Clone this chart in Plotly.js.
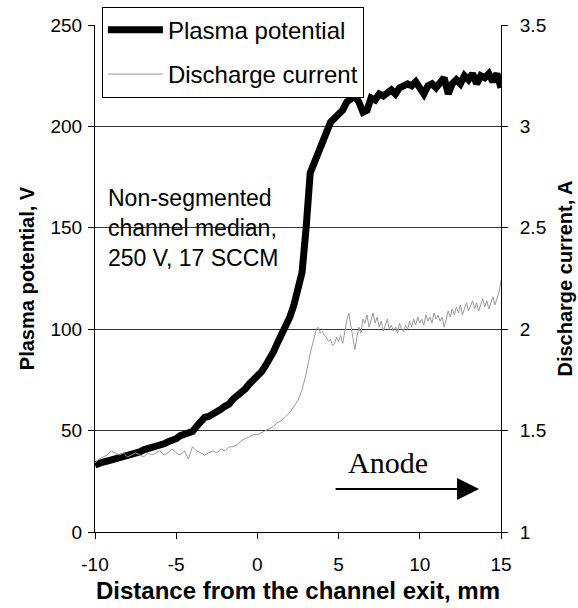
<!DOCTYPE html>
<html>
<head>
<meta charset="utf-8">
<script src="https://cdn.plot.ly/plotly-3.0.1.min.js"></script>
<style>html,body{margin:0;padding:0;background:#fff;}#chart{width:578px;height:608px;}</style>
</head>
<body>
<div id="chart"></div>
<script>
// Distance from channel exit, mm
const potX = [-10,-9.75,-9.5,-9.25,-9,-8.75,-8.5,-8.25,-8,-7.75,-7.5,-7.25,-7,-6.75,-6.5,-6.25,-6,-5.75,-5.5,-5.25,-5,-4.75,-4.5,-4.25,-4,-3.75,-3.5,-3.25,-3,-2.75,-2.5,-2.25,-2,-1.75,-1.5,-1.25,-1,-0.75,-0.5,-0.25,0,0.25,0.5,0.75,1,1.25,1.5,1.75,2,2.25,2.5,2.75,3,3.1,3.25,3.5,3.75,4,4.25,4.5,4.75,5,5.25,5.5,5.75,6,6.25,6.5,6.75,7,7.25,7.5,7.75,8,8.25,8.5,8.75,9,9.25,9.5,9.75,10,10.25,10.5,10.75,11,11.25,11.5,11.75,12,12.25,12.5,12.75,13,13.25,13.5,13.75,14,14.25,14.5,14.75,15];
// Plasma potential, V
const potV = [33,34,34.5,35,35.5,36,36.5,37.5,38,38.5,38.5,39.5,40.5,41,41.5,42,42.5,43.5,44.5,45,46,47.5,48,48.5,49.5,52,55,56.5,57,58,59,60.5,62,63,65.5,67,68,70.5,73,75,76.5,79,82,85,89,93.5,97.5,101,106,112,119,128,150,168,177,182,187,192,198,202,204,206,208,212,214,215,212,207,208,214,213,216,215,217,218,216,219,220,221,220,222,219,216,220,221,219,222,224,216,221,223,221,225,223,226,221,225,224,226,222,226,219];
// Discharge current: distance (mm) and current (A)
const curX = [-10,-9.75,-9.5,-9.25,-9,-8.75,-8.5,-8.25,-8,-7.75,-7.5,-7.25,-7,-6.75,-6.5,-6.25,-6,-5.75,-5.5,-5.25,-5,-4.75,-4.5,-4.25,-4,-3.75,-3.5,-3.25,-3,-2.75,-2.5,-2.25,-2,-1.75,-1.5,-1.25,-1,-0.75,-0.5,-0.25,0,0.25,0.5,0.75,1,1.25,1.5,1.75,2,2.25,2.5,2.75,3,3.25,3.5,
  3.625,3.75,3.875,4,4.125,4.25,4.375,4.5,4.625,4.75,4.875,5,5.125,5.25,5.375,5.5,5.625,5.75,5.875,6,6.125,6.25,6.375,6.5,6.625,6.75,6.875,7,7.125,7.25,7.375,7.5,7.625,7.75,7.875,8,8.125,8.25,8.375,8.5,8.625,8.75,8.875,9,9.125,9.25,9.375,9.5,9.625,9.75,9.875,10,10.125,10.25,10.375,10.5,10.625,10.75,10.875,11,11.125,11.25,11.375,11.5,11.625,11.75,11.875,12,12.125,12.25,12.375,12.5,12.625,12.75,12.875,13,13.125,13.25,13.375,13.5,13.625,13.75,13.875,14,14.125,14.25,14.375,14.5,14.625,14.75,14.875,15];
const curA = [1.34,1.36,1.37,1.38,1.40,1.39,1.38,1.39,1.37,1.38,1.39,1.38,1.37,1.39,1.38,1.39,1.40,1.38,1.39,1.41,1.39,1.38,1.40,1.36,1.42,1.40,1.39,1.38,1.39,1.40,1.39,1.41,1.40,1.42,1.42,1.43,1.45,1.46,1.47,1.48,1.48,1.49,1.50,1.51,1.52,1.54,1.55,1.57,1.59,1.62,1.65,1.70,1.78,1.88,1.97,
  2.00,2.01,1.98,1.99,1.97,1.96,1.94,1.95,1.92,1.93,1.96,1.94,1.97,1.93,1.99,2.04,2.08,2.02,1.95,1.90,1.96,2.01,1.98,2.05,2.03,2.07,2.01,2.04,2.08,2.03,2.06,2.01,2.04,1.99,2.02,2.05,2.00,2.02,1.99,2.01,1.98,2.03,2.00,1.99,2.02,2.00,2.04,2.01,2.05,2.02,2.06,2.03,2.05,2.02,2.07,2.04,2.06,2.03,2.08,2.05,2.07,2.04,2.06,2.01,2.05,2.09,2.06,2.10,2.07,2.11,2.08,2.12,2.07,2.10,2.13,2.09,2.12,2.14,2.10,2.13,2.09,2.12,2.15,2.11,2.14,2.10,2.13,2.16,2.12,2.15,2.18,2.24];

const xTicks = [-10,-5,0,5,10,15];
const xTickText = ['-10','-5','0','5','10','15'];
const yTicks = [0,50,100,150,200,250];
const y2Ticks = [1,1.5,2,2.5,3,3.5];

const FONT = '"Liberation Sans", Arial, sans-serif';

const traces = [
  {x: potX, y: potV, type: 'scatter', mode: 'lines', name: 'Plasma potential',
   line: {color: '#000', width: 7}, legendgroup: 'a', yaxis: 'y'},
  {x: curX, y: curA, type: 'scatter', mode: 'lines', name: 'Discharge current',
   line: {color: '#999', width: 1}, legendgroup: 'b', yaxis: 'y2'}
];

const layout = {
  width: 578, height: 608,
  margin: {l: 95, r: 77, t: 25, b: 76, autoexpand: false},
  paper_bgcolor: '#fff', plot_bgcolor: '#fff',
  font: {family: FONT, color: '#000', size: 19},
  showlegend: true,
  legend: {x: 0.017, y: 1.036, xanchor: 'left', yanchor: 'top',
    bgcolor: '#fff', bordercolor: '#000', borderwidth: 1,
    font: {family: FONT, size: 24, color: '#000'},
    traceorder: 'grouped', tracegroupgap: 10, itemwidth: 55},
  xaxis: {range: [-10, 15], tickvals: xTicks, ticktext: xTickText, ticks: 'outside', ticklen: 6,
    tickcolor: '#000', showline: true, linecolor: '#000', linewidth: 1,
    showgrid: false, zeroline: false, tickfont: {size: 19}, ticklabelstandoff: 9,
    title: {text: '<b>Distance from the channel exit, mm</b>', font: {size: 24}, standoff: 8}},
  yaxis: {range: [0, 250], tickvals: yTicks, ticks: 'outside', ticklen: 6,
    tickcolor: '#000', showline: true, linecolor: '#000', linewidth: 1,
    showgrid: true, gridcolor: '#333', gridwidth: 1, zeroline: false,
    tickfont: {size: 19}, ticklabelstandoff: 2,
    title: {text: '<b>Plasma potential, V</b>', font: {size: 20}, standoff: 10}},
  yaxis2: {range: [1, 3.5], tickvals: y2Ticks, ticks: 'outside', ticklen: 6,
    tickcolor: '#000', showline: true, linecolor: '#000', linewidth: 1,
    overlaying: 'y', side: 'right', showgrid: false, zeroline: false,
    tickfont: {size: 19}, ticklabelstandoff: 8,
    title: {text: '<b>Discharge current, A</b>', font: {size: 20}, standoff: 12}},
  annotations: [
    {x: -9.3, y: 150, xref: 'x', yref: 'y', xanchor: 'left', yanchor: 'middle',
     align: 'left', showarrow: false,
     text: 'Non-segmented<br>channel median,<br>250 V, 17 SCCM',
     font: {family: FONT, size: 23, color: '#000'}},
    {x: 8.07, y: 34.5, xref: 'x', yref: 'y', showarrow: false,
     text: 'Anode', font: {family: '"Liberation Serif", "Times New Roman", serif', size: 30, color: '#000'}},
    {x: 13.65, y: 21.2, xref: 'x', yref: 'y', ax: 4.72, ay: 21.2, axref: 'x', ayref: 'y',
     showarrow: true, arrowhead: 2, arrowsize: 2.2, arrowwidth: 2, arrowcolor: '#000', text: ''}
  ]
};

Plotly.newPlot('chart', traces, layout, {displayModeBar: false, staticPlot: true});
</script>
</body>
</html>
